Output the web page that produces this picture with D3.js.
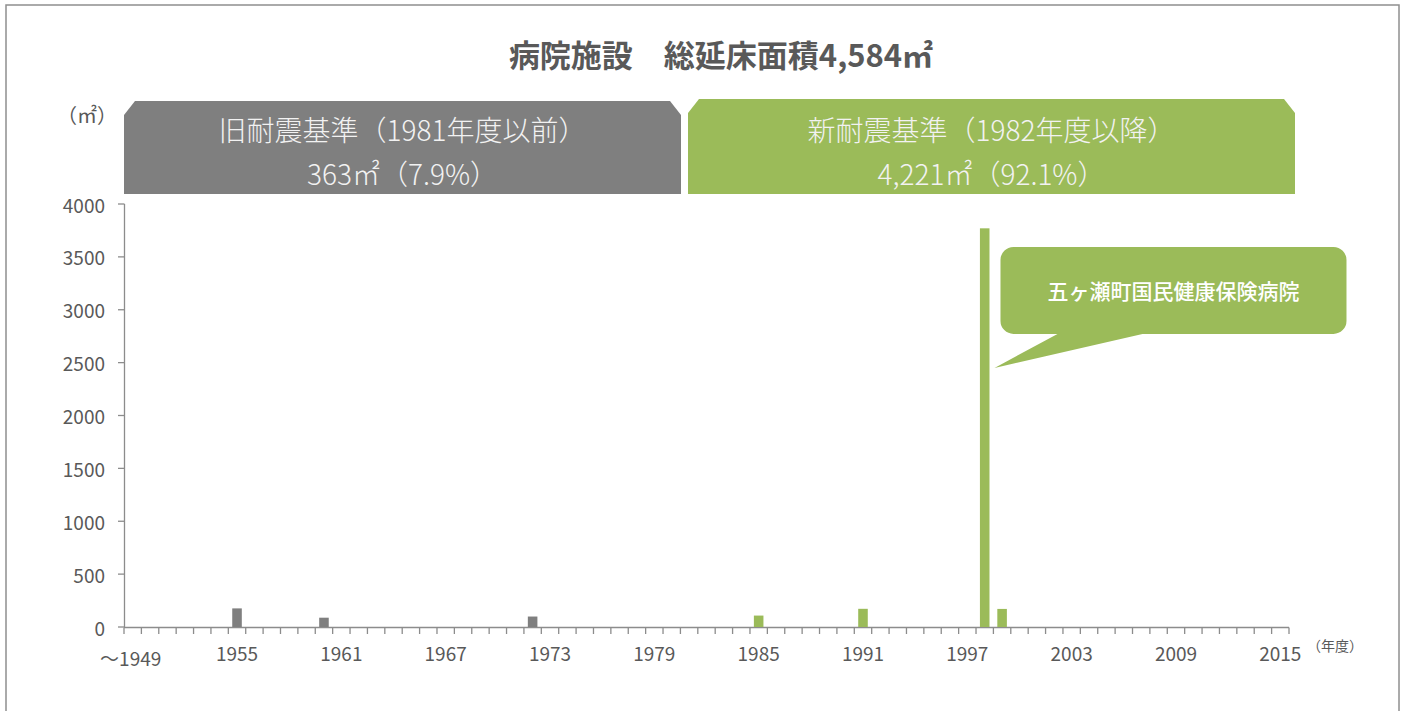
<!DOCTYPE html>
<html><head><meta charset="utf-8">
<script src="https://cdn.jsdelivr.net/npm/d3@7"></script>
<style>
html,body{margin:0;padding:0;background:#fff;}
svg text{font-family:"Noto Sans CJK JP","Noto Sans",sans-serif;}
</style></head>
<body><svg id="c" width="1405" height="711"></svg>
<script>
// ---- data ----
const years = [1949,1950,1951,1952,1953,1954,1955,1956,1957,1958,1959,1960,1961,1962,1963,1964,1965,1966,1967,1968,1969,1970,1971,1972,1973,1974,1975,1976,1977,1978,1979,1980,1981,1982,1983,1984,1985,1986,1987,1988,1989,1990,1991,1992,1993,1994,1995,1996,1997,1998,1999,2000,2001,2002,2003,2004,2005,2006,2007,2008,2009,2010,2011,2012,2013,2014,2015];
const tickYears = [1949,1955,1961,1967,1973,1979,1985,1991,1997,2003,2009,2015];
const tickLabels = ["〜1949","1955","1961","1967","1973","1979","1985","1991","1997","2003","2009","2015"];
const oldYears = [1955,1960,1972];
const oldValues = [176,88,99];
const newYears = [1985,1991,1998,1999];
const newValues = [108,172,3770,171];
const yTicks = [0,500,1000,1500,2000,2500,3000,3500,4000];
const title = "病院施設　総延床面積4,584㎡";
const oldHeader = ["旧耐震基準（1981年度以前）","363㎡（7.9%）"];
const newHeader = ["新耐震基準（1982年度以降）","4,221㎡（92.1%）"];
const calloutText = "五ヶ瀬町国民健康保険病院";
const calloutYear = 1998, calloutValue = 2450;

// ---- layout ----
const svg = d3.select("#c");
const GRAY = "#7f7f7f", GREEN = "#9bbb59", TXT = "#595959", AX = "#8c8c8c";
const x = d3.scaleBand().domain(years).range([124, 1289]).paddingInner(0.45).paddingOuter(0.225);
const xs = d3.scaleBand().domain(years).range([124, 1289]); // for ticks at boundaries
const y = d3.scaleLinear().domain([0, 4000]).range([627, 204]);

// frame
svg.append("rect").attr("x",6).attr("y",5).attr("width",1393).attr("height",730)
  .attr("fill","none").attr("stroke","#8f8f8f").attr("stroke-width",1.5);

// title
svg.append("text").attr("x",721).attr("y",53).attr("text-anchor","middle").attr("dominant-baseline","central")
  .attr("font-size",31).attr("font-weight","bold").attr("fill",TXT).text(title);

// headers
function header(x0,x1,top,fill,lines){
  const bot=194, cx=11, cy=14;
  const p=d3.path();
  p.moveTo(x0,bot); p.lineTo(x0,top+cy); p.lineTo(x0+cx,top); p.lineTo(x1-cx,top); p.lineTo(x1,top+cy); p.lineTo(x1,bot); p.closePath();
  svg.append("path").attr("d",p.toString()).attr("fill",fill);
  const mid=(x0+x1)/2;
  svg.append("text").attr("x",mid).attr("y",129).attr("text-anchor","middle").attr("dominant-baseline","central")
    .attr("font-size",28).attr("font-weight",300).attr("fill","#f2f2f2").text(lines[0]);
  svg.append("text").attr("x",mid).attr("y",173).attr("text-anchor","middle").attr("dominant-baseline","central")
    .attr("font-size",28).attr("font-weight",300).attr("fill","#f2f2f2").text(lines[1]);
}
header(124,681,101,GRAY,oldHeader);
header(688,1295,99,GREEN,newHeader);

// unit labels
svg.append("text").attr("x",87).attr("y",114).attr("text-anchor","middle").attr("dominant-baseline","central")
  .attr("font-size",20).attr("fill",TXT).text("（㎡）");
svg.append("text").attr("x",1335).attr("y",645).attr("text-anchor","middle").attr("dominant-baseline","central")
  .attr("font-size",14).attr("fill",TXT).text("（年度）");

// y axis
const gy = svg.append("g");
gy.append("line").attr("x1",124.5).attr("x2",124.5).attr("y1",y(4000)).attr("y2",y(0)).attr("stroke",AX).attr("stroke-width",1.3);
yTicks.forEach(v=>{
  gy.append("line").attr("x1",118).attr("x2",124.5).attr("y1",y(v)).attr("y2",y(v)).attr("stroke",AX).attr("stroke-width",1.3);
  gy.append("text").attr("x",105).attr("y",y(v)).attr("text-anchor","end").attr("dominant-baseline","central")
    .attr("font-size",19).attr("fill",TXT).text(v);
});

// x axis
const gx = svg.append("g");
gx.append("line").attr("x1",124).attr("x2",1289).attr("y1",627.5).attr("y2",627.5).attr("stroke",AX).attr("stroke-width",1.3);
const bounds = years.map(d=>xs(d)).concat([xs(years[years.length-1])+xs.bandwidth()]);
bounds.forEach(b=>{
  gx.append("line").attr("x1",b).attr("x2",b).attr("y1",627.5).attr("y2",634).attr("stroke",AX).attr("stroke-width",1.3);
});
tickYears.forEach((t,i)=>{
  gx.append("text").attr("x",xs(t)+xs.bandwidth()/2 - (i===0?2:0)).attr("y",i===0?657:652)
    .attr("text-anchor","middle").attr("dominant-baseline","central")
    .attr("font-size",19).attr("fill",TXT).text(tickLabels[i]);
});

// bars
svg.append("g").selectAll("rect").data(oldYears.map((d,i)=>({yr:d,v:oldValues[i]}))).join("rect")
  .attr("x",d=>x(d.yr)).attr("width",x.bandwidth()).attr("y",d=>y(d.v)).attr("height",d=>y(0)-y(d.v)).attr("fill",GRAY);
svg.append("g").selectAll("rect").data(newYears.map((d,i)=>({yr:d,v:newValues[i]}))).join("rect")
  .attr("x",d=>x(d.yr)).attr("width",x.bandwidth()).attr("y",d=>y(d.v)).attr("height",d=>y(0)-y(d.v)).attr("fill",GREEN);

// callout
const tipX = x(calloutYear)+x.bandwidth()+5, tipY = y(calloutValue);
const bx0 = tipX+6, bx1 = tipX+352, by0 = tipY-121, by1 = tipY-34, r = 13;
const cp = d3.path();
cp.moveTo(bx0+r,by0); cp.lineTo(bx1-r,by0); cp.arcTo(bx1,by0,bx1,by0+r,r);
cp.lineTo(bx1,by1-r); cp.arcTo(bx1,by1,bx1-r,by1,r);
cp.lineTo(tipX+148,by1); cp.lineTo(tipX,tipY); cp.lineTo(tipX+63,by1);
cp.lineTo(bx0+r,by1); cp.arcTo(bx0,by1,bx0,by1-r,r);
cp.lineTo(bx0,by0+r); cp.arcTo(bx0,by0,bx0+r,by0,r); cp.closePath();
svg.append("path").attr("d",cp.toString()).attr("fill",GREEN);
svg.append("text").attr("x",(bx0+bx1)/2).attr("y",(by0+by1)/2).attr("text-anchor","middle").attr("dominant-baseline","central")
  .attr("font-size",21).attr("font-weight",500).attr("fill","#fff").text(calloutText);
</script></body></html>
